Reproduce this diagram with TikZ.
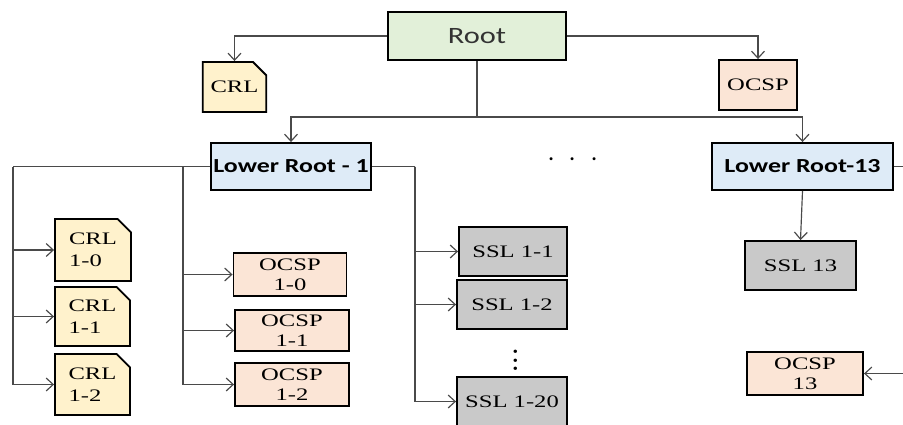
\documentclass[tikz,border=0pt]{standalone}
\usepackage{fontspec}
\usetikzlibrary{arrows.meta,shapes.misc}

\newfontfamily\serifbox[FakeStretch=1.4]{Liberation Serif}
\newfontfamily\sansbox[FakeStretch=1.3]{Carlito}

\definecolor{rootgreen}{HTML}{E2F0D9}
\definecolor{lowerblue}{HTML}{DEEBF7}
\definecolor{crlyellow}{HTML}{FFF2CC}
\definecolor{ocsppeach}{HTML}{FBE5D6}
\definecolor{sslgray}{HTML}{C9C9C9}
\definecolor{linkgray}{HTML}{4A4A4A}

\tikzset{
  box/.style={draw=black, line width=1.6pt, inner sep=1pt, align=center},
  dims/.style 2 args={minimum width=#1*0.03cm, minimum height=#2*0.03cm},
  rootbox/.style={box, fill=rootgreen, text=black!80, font=\sansbox\fontsize{20}{22}\selectfont},
  lowerbox/.style={box, fill=lowerblue, font=\sansbox\bfseries\fontsize{17}{19}\selectfont},
  crlbox/.style={box, chamfered rectangle, chamfered rectangle corners=north east,
    chamfered rectangle xsep=0.2cm, chamfered rectangle ysep=0.2cm,
    fill=crlyellow, align=left, font=\serifbox\fontsize{15}{19}\selectfont},
  ocspbox/.style={box, fill=ocsppeach, font=\serifbox\fontsize{15}{17}\selectfont},
  sslbox/.style={box, fill=sslgray, font=\serifbox\fontsize{15}{17}\selectfont},
  link/.style={draw=linkgray, line width=1pt},
  arrow/.style={link, -{Straight Barb[length=6pt,width=11pt]}}
}

\begin{document}
\begin{tikzpicture}[x=0.03cm, y=-0.03cm]
\clip (0,0) rectangle (903,425);

% top level
\node[rootbox, dims={178}{48}] (root) at (477,36) {Root};
\node[crlbox, dims={63}{50}] (crl) at (234.5,87) {CRL};
\node[ocspbox, dims={78}{50}] (ocsp) at (758,85) {OCSP};

% lower roots
\node[lowerbox, dims={160}{47}] (lr1) at (291,166.5) {Lower Root - 1};
\node[lowerbox, dims={181}{47}] (lr13) at (802.5,166.5) {Lower Root-13};
\node (hdots) at (573,160) {\fontsize{28}{28}\selectfont$\cdot\hspace{6pt}\cdot\hspace{6pt}\cdot$};

% children of lower root 1
\node[crlbox, dims={76}{62}] (crl10) at (93,250) {CRL\\1-0};
\node[crlbox, dims={75}{59}] (crl11) at (92.5,316.5) {CRL\\1-1};
\node[crlbox, dims={75}{61}] (crl12) at (92.5,384.5) {CRL\\1-2};

\node[ocspbox, dims={113}{43}] (ocsp10) at (290,274.5) {OCSP\\1-0};
\node[ocspbox, dims={114}{41}] (ocsp11) at (292,330.5) {OCSP\\1-1};
\node[ocspbox, dims={114}{43}] (ocsp12) at (292,384.5) {OCSP\\1-2};

\node[sslbox, dims={108}{49}] (ssl11) at (513,251.5) {SSL 1-1};
\node[sslbox, dims={110}{49}] (ssl12) at (512,304.5) {SSL 1-2};
\node (vdots) at (516,354) {\scalebox{1.8}{\fontsize{20}{20}\selectfont$\vdots$}};
\node[sslbox, dims={110}{49}] (ssl120) at (512,401.5) {SSL 1-20};

% children of lower root 13
\node[sslbox, dims={111}{49}] (ssl13) at (800.5,265.5) {SSL 13};
\node[ocspbox, dims={116}{43}] (ocsp13) at (805,373.5) {OCSP\\13};

% bus points
\coordinate (rootjoin) at (477,117);
\coordinate (crlbus) at (13,166.5);
\coordinate (ocspbus) at (183,166.5);
\coordinate (sslbus) at (415,166.5);
\coordinate (edge13) at (903,166.5);
\coordinate (edgeocsp) at (903,373.5);

% connectors
\draw[arrow] (root.west) -| (crl.north);
\draw[arrow] (root.east) -| (ocsp.north);
\draw[link] (root.south) -- (rootjoin);
\draw[arrow] (rootjoin) -| (lr1.north);
\draw[arrow] (rootjoin) -| (lr13.north);

\draw[link] (lr1.west) -- (crlbus);
\draw[link] (lr1.east) -- (sslbus);
\foreach \n in {crl10,crl11,crl12}
  \draw[arrow] (crlbus) |- (\n.west);
\foreach \n in {ocsp10,ocsp11,ocsp12}
  \draw[arrow] (ocspbus) |- (\n.west);
\foreach \n in {ssl11,ssl12,ssl120}
  \draw[arrow] (sslbus) |- (\n.west);

\draw[arrow] (lr13.south) -- (ssl13.north);
\draw[link] (lr13.east) -- (edge13);
\draw[arrow] (edgeocsp) -- (ocsp13.east);

\end{tikzpicture}
\end{document}
